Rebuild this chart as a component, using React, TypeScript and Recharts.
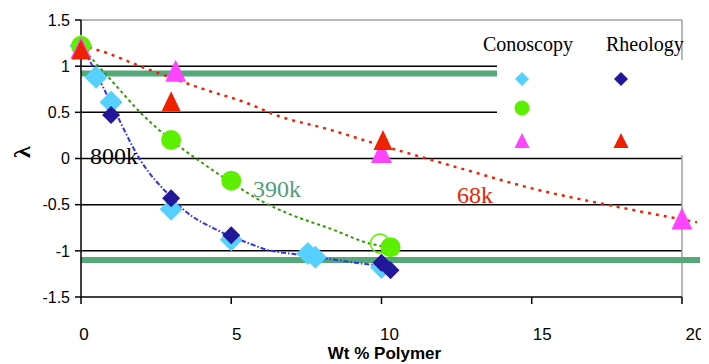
import React from "react";
import { ComposedChart, Scatter, Line, XAxis, YAxis, ReferenceLine } from "recharts";

// tick values
const xTicks = [0, 5, 10, 15, 20];
const yTicks = [-1.5, -1, -0.5, 0, 0.5, 1, 1.5];
const gridValues = [-1, -0.5, 0, 0.5, 1];

// measured points
const conoscopy800k = [
  { x: 0, y: 1.22 },
  { x: 0.5, y: 0.88 },
  { x: 1, y: 0.61 },
  { x: 3, y: -0.55 },
  { x: 5, y: -0.88 },
  { x: 7.55, y: -1.03 },
  { x: 7.8, y: -1.07 },
  { x: 10, y: -1.18 },
];
const rheology800k = [
  { x: 1, y: 0.47 },
  { x: 3, y: -0.43 },
  { x: 5, y: -0.83 },
  { x: 10, y: -1.13 },
  { x: 10.3, y: -1.21 },
];
const conoscopy390k = [
  { x: 0, y: 1.22 },
  { x: 3, y: 0.2 },
  { x: 5, y: -0.24 },
  { x: 10.3, y: -0.96 },
];
const conoscopy390kOpen = [{ x: 9.95, y: -0.92 }];
const conoscopy68k = [
  { x: 0, y: 1.2 },
  { x: 3.15, y: 0.95 },
  { x: 10, y: 0.07 },
  { x: 20, y: -0.65 },
];
const rheology68k = [
  { x: 0, y: 1.18 },
  { x: 3, y: 0.62 },
  { x: 10.05, y: 0.2 },
];

// trend lines
const trend800k = [
  { x: 0, y: 1.25 },
  { x: 0.6, y: 0.86 },
  { x: 1, y: 0.6 },
  { x: 2, y: -0.03 },
  { x: 3, y: -0.42 },
  { x: 3.4, y: -0.55 },
  { x: 4.5, y: -0.77 },
  { x: 5.6, y: -0.92 },
  { x: 6.1, y: -0.98 },
  { x: 7.2, y: -1.04 },
  { x: 8.5, y: -1.1 },
  { x: 9.4, y: -1.14 },
  { x: 10, y: -1.16 },
];
const trend390k = [
  { x: 0, y: 1.22 },
  { x: 0.5, y: 1.03 },
  { x: 1, y: 0.85 },
  { x: 2, y: 0.49 },
  { x: 3, y: 0.2 },
  { x: 4, y: -0.04 },
  { x: 5, y: -0.26 },
  { x: 6, y: -0.46 },
  { x: 7, y: -0.61 },
  { x: 8.3, y: -0.76 },
  { x: 9.6, y: -0.92 },
  { x: 10.2, y: -0.96 },
];
const trend68k = [
  { x: 0, y: 1.22 },
  { x: 0.5, y: 1.18 },
  { x: 2.2, y: 0.97 },
  { x: 4, y: 0.76 },
  { x: 5.6, y: 0.59 },
  { x: 6.4, y: 0.48 },
  { x: 8.3, y: 0.31 },
  { x: 9.6, y: 0.18 },
  { x: 11.6, y: -0.01 },
  { x: 13.2, y: -0.16 },
  { x: 14.6, y: -0.29 },
  { x: 17.8, y: -0.52 },
  { x: 20.5, y: -0.69 },
];

const LIGHT_BLUE = "#55D0FF";
const DARK_BLUE = "#22179A";
const LIME = "#5CF000";
const MAGENTA = "#FF44FF";
const RED = "#EE2200";
const BAND = "#55A87A";

const diamond = (color: string, s: number) => (props: any) => {
  const { cx, cy } = props;
  return <polygon points={`${cx},${cy - s} ${cx + s},${cy} ${cx},${cy + s} ${cx - s},${cy}`} fill={color} />;
};
const triangle = (color: string, w: number, h: number) => (props: any) => {
  const { cx, cy } = props;
  return <polygon points={`${cx},${cy - h / 2} ${cx + w / 2},${cy + h / 2} ${cx - w / 2},${cy + h / 2}`} fill={color} />;
};
const dot = (fill: string, stroke: string, r: number) => (props: any) => {
  const { cx, cy } = props;
  return <circle cx={cx} cy={cy} r={r} fill={fill} stroke={stroke} strokeWidth={fill === "none" ? 1.5 : 0} />;
};

const XTick = (props: any) => {
  const { x, y, payload } = props;
  const v = payload.value;
  return (
    <text x={x + 3 + v * 0.5} y={y + 34} textAnchor="middle" fontSize={17} fontFamily="Liberation Sans, Arial" fill="#000">
      {v}
    </text>
  );
};

const serif = "Liberation Serif, Times New Roman, serif";

export default function App() {
  return (
    <div style={{ position: "relative", width: 701, height: 356 }}>
      <ComposedChart width={701} height={356} margin={{ top: 12, right: 9, left: 13, bottom: 0 }} style={{ overflow: "visible" }}>
        <XAxis
          type="number"
          dataKey="x"
          domain={[0, 20.6]}
          ticks={xTicks}
          axisLine={false}
          tickLine={{ stroke: "#000", strokeWidth: 1.5 }}
          tickSize={7}
          height={67}
          tick={<XTick />}
          label={(p: any) => {
            const vb = p.viewBox;
            return (
              <text x={vb.x + vb.width / 2 - 6} y={vb.y + 62} textAnchor="middle" fontSize={17} fontWeight="bold" fontFamily="Liberation Sans, Arial">
                Wt % Polymer
              </text>
            );
          }}
        />
        <YAxis
          type="number"
          dataKey="y"
          domain={[-1.5, 1.5]}
          ticks={yTicks}
          width={60}
          axisLine={{ stroke: "#000", strokeWidth: 1.5 }}
          tickLine={{ stroke: "#000", strokeWidth: 1.5 }}
          tickSize={6}
          tickMargin={5}
          tick={{ fontSize: 16, fill: "#000", fontFamily: "Liberation Sans, Arial" }}
          label={() => (
            <text x={14} y={144} transform="rotate(-90 14 144)" textAnchor="middle" dominantBaseline="central" fontSize={24} fontWeight="bold" fontFamily={serif} fill="#000">
              λ
            </text>
          )}
        />
        {gridValues.map((v) => (
          <ReferenceLine key={v} segment={[{ x: 0, y: v }, { x: 20, y: v }]} stroke="#000" strokeWidth={1.5} />
        ))}
        <ReferenceLine segment={[{ x: 0, y: 1.5 }, { x: 20, y: 1.5 }]} stroke="#A0A0A0" strokeWidth={1.5} />
        <ReferenceLine segment={[{ x: 20, y: -1.5 }, { x: 20, y: 1.5 }]} stroke="#A0A0A0" strokeWidth={1.5} />
        <ReferenceLine segment={[{ x: 0, y: -1.5 }, { x: 20, y: -1.5 }]} stroke="#000" strokeWidth={1.5} />
        <ReferenceLine segment={[{ x: 0, y: 0.92 }, { x: 20, y: 0.92 }]} stroke={BAND} strokeWidth={6} />
        <ReferenceLine segment={[{ x: 0, y: -1.1 }, { x: 20.6, y: -1.1 }]} stroke={BAND} strokeWidth={6} />

        <Scatter data={conoscopy800k} shape={diamond(LIGHT_BLUE, 11.5)} isAnimationActive={false} />
        <Scatter data={conoscopy390k} shape={dot(LIME, LIME, 10)} isAnimationActive={false} />
        <Scatter data={conoscopy390kOpen} shape={dot("none", LIME, 9.5)} isAnimationActive={false} />
        <Scatter data={rheology800k} shape={diamond(DARK_BLUE, 9)} isAnimationActive={false} />
        <Scatter data={conoscopy68k} shape={triangle(MAGENTA, 21, 22)} isAnimationActive={false} />
        <Scatter data={rheology68k} shape={triangle(RED, 19, 20)} isAnimationActive={false} />

        <Line data={trend800k} dataKey="y" type="monotone" stroke="#3333EE" strokeWidth={2} strokeDasharray="5 2 1.5 2" dot={false} isAnimationActive={false} />
        <Line data={trend390k} dataKey="y" type="monotone" stroke="#339900" strokeWidth={2} strokeDasharray="3 3" dot={false} isAnimationActive={false} />
        <Line data={trend68k} dataKey="y" type="monotone" stroke={RED} strokeWidth={2.5} strokeDasharray="3 5" dot={false} isAnimationActive={false} />
      </ComposedChart>

      <svg width={701} height={356} style={{ position: "absolute", left: 0, top: 0, pointerEvents: "none" }}>
        <rect x={489} y={52} width={195} height={95} fill="#fff" />
        <text x={475} y={43} fontSize={20} fontFamily={serif} fill="#000">Conoscopy</text>
        <text x={598} y={43} fontSize={20} fontFamily={serif} fill="#000">Rheology</text>
        <polygon points="514,64 521,71 514,78 507,71" fill={LIGHT_BLUE} />
        <polygon points="613,64 620,71 613,78 606,71" fill={DARK_BLUE} />
        <circle cx={514} cy={100} r={7.5} fill={LIME} />
        <polygon points="514,125 521.5,140 506.5,140" fill={MAGENTA} />
        <polygon points="613,125 620.5,140 605.5,140" fill={RED} />
        <text x={82} y={156} fontSize={24} fontFamily={serif} fill="#000">800k</text>
        <text x={245} y={189} fontSize={24} fontFamily={serif} fill="#4E9E78">390k</text>
        <text x={449} y={195} fontSize={24} fontFamily={serif} fill={RED}>68k</text>
      </svg>
    </div>
  );
}
